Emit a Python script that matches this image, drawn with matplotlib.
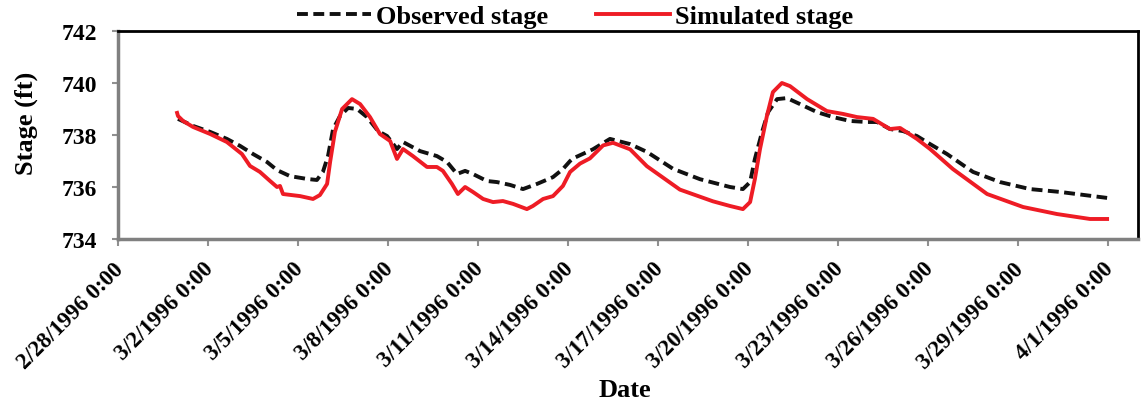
#!/usr/bin/env python3

import datetime as dt

import matplotlib
matplotlib.use('Agg')
from matplotlib import pyplot as plt
from matplotlib import dates as mdates
from matplotlib import transforms as mtransforms
from matplotlib.ticker import FuncFormatter


start = dt.datetime(1996, 2, 28)

# days after 2/28/1996 0:00, stage in ft
obs_days = [2.0, 2.5, 3.07, 3.63, 4.07, 4.5, 4.97, 5.3, 5.73, 6.3, 6.63, 6.83,
            7.0, 7.17, 7.4, 7.67, 7.97, 8.3, 8.67, 8.97, 9.3, 9.5, 10.07, 10.63,
            10.97, 11.3, 11.57, 11.83, 12.3, 12.63, 13.07, 13.5, 13.97, 14.5,
            14.83, 15.07, 15.17, 15.83, 16.4, 17.07, 17.63, 18.5, 19.4, 20.4,
            20.83, 21.07, 21.23, 21.47, 21.67, 21.97, 22.3, 22.73, 23.3, 23.83,
            24.4, 24.97, 25.3, 25.73, 26.17, 26.63, 27.07, 27.63, 28.5, 29.4,
            30.4, 31.4, 32.97]
obs_stage = [738.62, 738.35, 738.12, 737.85, 737.58, 737.27, 736.96, 736.65,
             736.42, 736.31, 736.27, 736.58, 737.19, 738.23, 738.73, 739.04,
             739.0, 738.69, 738.15, 737.96, 737.46, 737.73, 737.38, 737.19,
             736.96, 736.5, 736.62, 736.5, 736.23, 736.19, 736.08, 735.92,
             736.12, 736.38, 736.69, 737.0, 737.1, 737.45, 737.85, 737.65,
             737.35, 736.7, 736.3, 736.0, 735.92, 736.19, 737.08, 738.12,
             738.88, 739.38, 739.42, 739.19, 738.88, 738.69, 738.54, 738.5,
             738.5, 738.23, 738.15, 737.96, 737.65, 737.27, 736.58, 736.19,
             735.92, 735.81, 735.58]

sim_days = [1.97, 2.0, 2.17, 2.5, 3.07, 3.63, 4.13, 4.4, 4.73, 5.07, 5.3, 5.4,
            5.5, 6.07, 6.5, 6.73, 6.97, 7.07, 7.23, 7.47, 7.8, 8.07, 8.4, 8.73,
            9.07, 9.3, 9.5, 9.83, 10.3, 10.63, 10.83, 11.13, 11.33, 11.57,
            11.83, 12.17, 12.5, 12.83, 13.17, 13.63, 13.83, 14.17, 14.5, 14.83,
            15.07, 15.4, 15.73, 16.17, 16.5, 17.07, 17.63, 18.73, 19.83, 20.4,
            20.83, 21.07, 21.23, 21.4, 21.63, 21.83, 22.13, 22.4, 22.97, 23.63,
            24.17, 24.63, 25.17, 25.73, 26.07, 26.63, 27.07, 27.83, 28.97,
            30.17, 31.3, 32.4, 32.97]
sim_stage = [738.85, 738.73, 738.54, 738.31, 738.04, 737.73, 737.27, 736.81,
             736.58, 736.23, 736.0, 736.04, 735.73, 735.65, 735.54, 735.69,
             736.12, 736.96, 738.12, 739.0, 739.38, 739.19, 738.69, 738.04,
             737.77, 737.08, 737.46, 737.19, 736.77, 736.77, 736.62, 736.12,
             735.73, 736.0, 735.81, 735.54, 735.42, 735.46, 735.35, 735.15,
             735.27, 735.54, 735.65, 736.04, 736.58, 736.9, 737.1, 737.6,
             737.7, 737.45, 736.8, 735.9, 735.45, 735.27, 735.15, 735.42,
             736.31, 737.46, 738.73, 739.65, 740.0, 739.88, 739.38, 738.92,
             738.81, 738.69, 738.62, 738.23, 738.27, 737.85, 737.46, 736.69,
             735.73, 735.23, 734.96, 734.77, 734.77]

tick_step_days = 3
n_ticks = 12
y_ticks = [734, 736, 738, 740, 742]


def to_dates(days):
    return [start + dt.timedelta(days=d) for d in days]


plt.rcParams['font.family'] = ['Liberation Serif', 'DejaVu Serif']
plt.rcParams['font.weight'] = 'bold'

fig = plt.figure(figsize=(11.41, 4.06), dpi=100)
ax = fig.add_axes([118 / 1141, 1 - 240 / 406, 1020 / 1141, 208 / 406])

ax.plot(to_dates(obs_days), obs_stage, color='#111111', lw=2.8,
        ls=(0, (2.8, 1.4)), label='Observed stage')
ax.plot(to_dates(sim_days), sim_stage, color='#ee1c25', lw=2.8,
        label='Simulated stage')

ax.set_xlim(start, start + dt.timedelta(days=34))
ax.set_ylim(734, 742)
ax.set_yticks(y_ticks)

ticks = [start + dt.timedelta(days=tick_step_days * i) for i in range(n_ticks)]
ax.set_xticks(ticks)
ax.xaxis.set_major_formatter(FuncFormatter(
    lambda v, pos: (lambda d: f'{d.month}/{d.day}/{d.year} 0:00')(mdates.num2date(v))))

ax.tick_params(axis='x', direction='out', length=5, width=1.5, color='#909090', pad=14)
ax.tick_params(axis='y', direction='out', length=4, width=1.5, color='#909090', pad=11)

shift = mtransforms.ScaledTranslation(2 / 100, 0, fig.dpi_scale_trans)
for lbl in ax.get_xticklabels():
    lbl.set_rotation(45)
    lbl.set_ha('right')
    lbl.set_va('center')
    lbl.set_rotation_mode('anchor')
    lbl.set_fontsize(16.5)
    lbl.set_fontweight('bold')
    lbl.set_transform(lbl.get_transform() + shift)
plt.setp(ax.get_yticklabels(), fontsize=17, fontweight='bold')

for side in ('top', 'right'):
    ax.spines[side].set_color('black')
    ax.spines[side].set_linewidth(2)
for side in ('left', 'bottom'):
    ax.spines[side].set_color('#808080')
    ax.spines[side].set_linewidth(2.5)

ax.set_ylabel('Stage (ft)', fontsize=19, fontweight='bold')
ax.yaxis.set_label_coords(-80 / 1020, 0.56)
ax.set_xlabel('Date', fontsize=19, fontweight='bold', va='top')
ax.xaxis.set_label_coords(0.497, -(379 - 240) / 208)

fig.legend(loc='center', bbox_to_anchor=(575 / 1141, 1 - 17 / 406), ncol=2,
           frameon=False, fontsize=19, handlelength=2.8, columnspacing=1.8,
           handletextpad=0.2, borderaxespad=0)

fig.savefig('out.png', dpi=100)
